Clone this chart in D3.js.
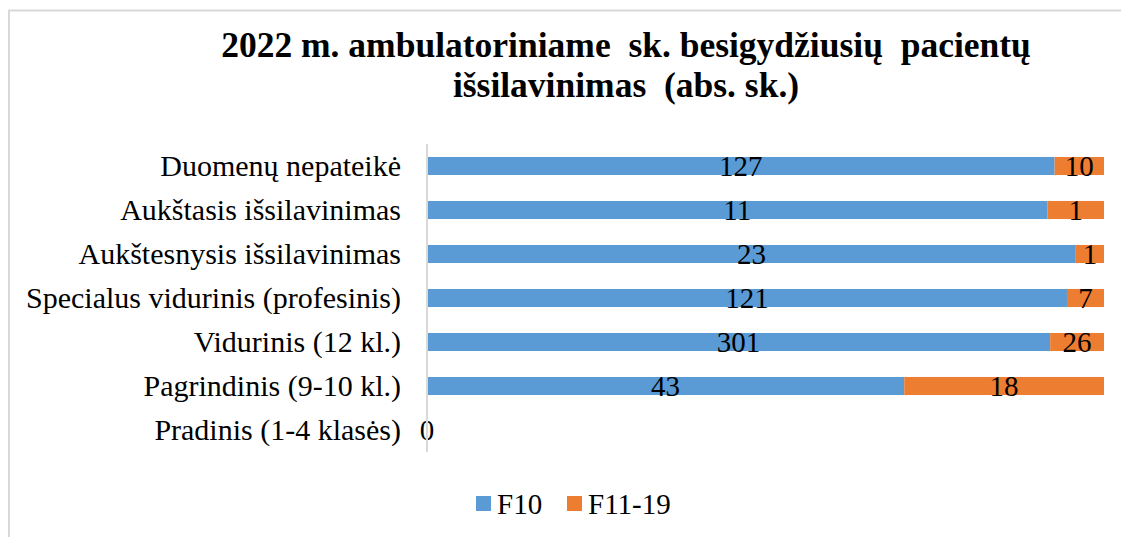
<!DOCTYPE html>
<html>
<head>
<meta charset="utf-8">
<script src="https://cdn.jsdelivr.net/npm/d3@7"></script>
<style>
  html, body { margin: 0; padding: 0; background: #fff; }
  svg { display: block; }
  svg text { font-family: "Liberation Serif", "Times New Roman", serif !important; fill: #000; }
</style>
</head>
<body>
<svg id="chart" width="1121" height="537"></svg>
<script>
const titleLines = ["2022 m. ambulatoriniame\u00a0 sk. besigydžiusių\u00a0 pacientų", "išsilavinimas\u00a0 (abs. sk.)"];
const categories = ["Duomenų nepateikė", "Aukštasis išsilavinimas", "Aukštesnysis išsilavinimas", "Specialus vidurinis (profesinis)", "Vidurinis (12 kl.)", "Pagrindinis (9-10 kl.)", "Pradinis (1-4 klasės)"];
const seriesNames = ["F10", "F11-19"];
const f10 = [127, 11, 23, 121, 301, 43, 0];
const f1119 = [10, 1, 1, 7, 26, 18, 0];
const colors = ["#5B9BD5", "#ED7D31"];

const FONT = "'Liberation Serif', 'Times New Roman', serif";
const svg = d3.select("#chart");

// chart frame
svg.append("rect").attr("x", 9).attr("y", 10.5).attr("width", 1130).attr("height", 540)
  .attr("fill", "none").attr("stroke", "#d9d9d9").attr("stroke-width", 2);

// title
svg.append("text").attr("x", 626).attr("y", 57).attr("text-anchor", "middle")
  .style("font-family", FONT).attr("font-size", 35.5).attr("font-weight", "bold").text(titleLines[0]);
svg.append("text").attr("x", 626).attr("y", 97).attr("text-anchor", "middle")
  .style("font-family", FONT).attr("font-size", 35.5).attr("font-weight", "bold").text(titleLines[1]);

const x = d3.scaleLinear().domain([0, 1]).range([427, 1104]);
const y = d3.scaleBand().domain(categories).range([144, 452]).paddingInner(0.59).paddingOuter(0.295);

const rows = categories.map((c, i) => {
  const vals = [f10[i], f1119[i]];
  const total = vals[0] + vals[1];
  let acc = 0;
  const segs = vals.map((v, s) => {
    const p0 = total ? acc / total : 0;
    acc += v;
    const p1 = total ? acc / total : 0;
    return { cat: c, series: s, value: v, p0, p1 };
  });
  return { cat: c, total, segs };
});

// bars
const g = svg.append("g");
rows.forEach(r => {
  g.selectAll(null).data(r.segs).enter().append("rect")
    .attr("x", d => x(d.p0))
    .attr("y", y(r.cat))
    .attr("width", d => x(d.p1) - x(d.p0))
    .attr("height", y.bandwidth())
    .attr("fill", d => colors[d.series]);
});

// axis (categories)
const axis = d3.axisLeft(y).tickSize(0).tickPadding(26);
const ag = svg.append("g").attr("transform", `translate(${x(0)},0)`).call(axis)
  .attr("font-family", null).attr("font-size", null);
ag.select(".domain").attr("stroke", "#d9d9d9").attr("stroke-width", 2)
  .attr("d", `M0,144V452`);
ag.selectAll(".tick text").style("font-family", FONT).attr("font-size", 30)
  .attr("fill", "#000").attr("dy", "0.32em");

// data labels
rows.forEach(r => {
  const segs = r.total ? r.segs : [r.segs[0]];
  g.selectAll(null).data(segs).enter().append("text")
    .attr("x", d => (x(d.p0) + x(d.p1)) / 2)
    .attr("y", y(r.cat) + y.bandwidth() / 2)
    .attr("dy", "0.34em")
    .attr("text-anchor", "middle")
    .style("font-family", FONT)
    .attr("font-size", 29)
    .text(d => d.value);
});

// legend
const leg = svg.append("g");
const legX = [476, 567];
seriesNames.forEach((n, i) => {
  leg.append("rect").attr("x", legX[i]).attr("y", 496).attr("width", 15).attr("height", 15).attr("fill", colors[i]);
  leg.append("text").attr("x", legX[i] + 21).attr("y", 514).style("font-family", FONT).attr("font-size", 29).text(n);
});
</script>
</body>
</html>
